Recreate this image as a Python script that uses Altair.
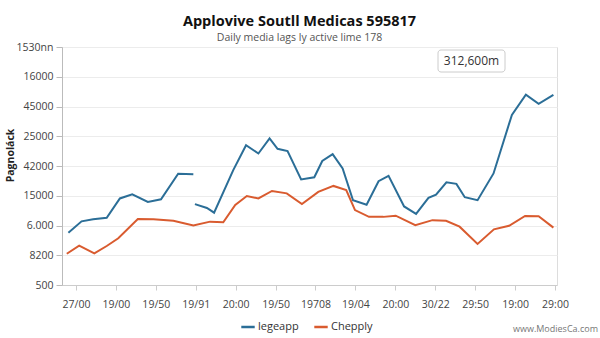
import json
import altair as alt
import pandas as pd

# ---- data (x in category-label units, y in tick-label units) ----
x_labels = ["27/00", "19/00", "19/50", "19/91", "20:00", "19/50", "19708",
            "19/04", "20:00", "30/22", "29:50", "19:00", "29:00"]
y_labels = ["500", "8200", "6.000", "15000", "42000", "25000", "45000", "16000", "1530nn"]

blue_x1 = [-0.19, 0.14, 0.43, 0.77, 1.10, 1.41, 1.80, 2.13, 2.56, 2.94]
blue_y1 = [1.76, 2.14, 2.21, 2.26, 2.91, 3.05, 2.79, 2.88, 3.74, 3.72]

blue_x2 = [2.98, 3.28, 3.46, 3.94, 4.26, 4.57, 4.85, 5.05, 5.30, 5.64, 5.97, 6.17,
           6.43, 6.68, 6.94, 7.28, 7.58, 7.83, 8.22, 8.52, 8.83, 9.02, 9.28, 9.53,
           9.74, 10.06, 10.46, 10.92, 11.27, 11.59, 11.96]
blue_y2 = [2.72, 2.59, 2.43, 3.86, 4.70, 4.42, 4.93, 4.58, 4.50, 3.55, 3.62, 4.17,
           4.40, 3.92, 2.85, 2.70, 3.49, 3.67, 2.64, 2.39, 2.93, 3.04, 3.45, 3.40,
           2.95, 2.85, 3.75, 5.72, 6.40, 6.09, 6.39]

orange_x = [-0.23, 0.08, 0.46, 0.77, 1.06, 1.55, 1.94, 2.44, 2.94, 3.36, 3.69, 3.99,
            4.28, 4.57, 4.91, 5.28, 5.66, 6.07, 6.45, 6.77, 6.99, 7.34, 7.70, 8.01,
            8.50, 8.93, 9.27, 9.61, 10.06, 10.47, 10.85, 11.25, 11.59, 11.96]
orange_y = [1.05, 1.32, 1.06, 1.31, 1.57, 2.22, 2.21, 2.16, 2.00, 2.13, 2.11, 2.69,
            2.99, 2.91, 3.16, 3.08, 2.72, 3.13, 3.33, 3.19, 2.52, 2.29, 2.29, 2.33,
            2.01, 2.18, 2.16, 1.96, 1.38, 1.87, 1.99, 2.32, 2.31, 1.93]

series_names = ["legeapp", "Chepply"]
colors = ["#2b6e97", "#d95b2f"]

rows = []
for xv, yv in zip(blue_x1, blue_y1):
    rows.append({"x": xv, "y": yv, "series": series_names[0], "seg": "b1"})
for xv, yv in zip(blue_x2, blue_y2):
    rows.append({"x": xv, "y": yv, "series": series_names[0], "seg": "b2"})
for xv, yv in zip(orange_x, orange_y):
    rows.append({"x": xv, "y": yv, "series": series_names[1], "seg": "o1"})
df = pd.DataFrame(rows)

x_expr = json.dumps(x_labels) + "[round(datum.value)]"
y_expr = json.dumps(y_labels) + "[round(datum.value)]"

FONT = "Open Sans"

lines = alt.Chart(df).mark_line(strokeWidth=2).encode(
    x=alt.X("x:Q", scale=alt.Scale(domain=[-0.35, 12.05], nice=False, zero=False),
            axis=alt.Axis(values=list(range(len(x_labels))), labelExpr=x_expr,
                          title=None, grid=False, tickSize=5, labelPadding=9,
                          labelFontSize=10.5, labelColor="#444", tickColor="#ccc",
                          domainColor="#ccc", labelFont=FONT)),
    y=alt.Y("y:Q", scale=alt.Scale(domain=[0, 8], nice=False, zero=False),
            axis=alt.Axis(values=list(range(len(y_labels))), labelExpr=y_expr,
                          title="Pagnoláck", titleFontSize=10.5, titleColor="#222",
                          titleFontWeight="bold", titleX=-47, titleY=108,
                          grid=True, gridColor="#ececec", tickSize=6, labelPadding=3,
                          labelFontSize=10.5, labelColor="#444", tickColor="#bbb",
                          domainColor="#bbb", labelFont=FONT, titleFont=FONT)),
    color=alt.Color("series:N", scale=alt.Scale(domain=series_names, range=colors),
                    sort=series_names,
                    legend=alt.Legend(title=None, orient="none", direction="horizontal",
                                      legendX=178, legendY=272, symbolType="stroke",
                                      symbolStrokeWidth=2.5, symbolSize=180,
                                      labelFontSize=11, labelColor="#333",
                                      labelFont=FONT, columnPadding=10,
                                      symbolOffset=0, labelOffset=2)),
    detail="seg:N",
    order="x:Q",
)

box = alt.Chart(pd.DataFrame({"a": [0]})).mark_rect(
    fill="white", stroke="#cccccc", strokeWidth=1, cornerRadius=3
).encode(x=alt.value(376), x2=alt.value(443), y=alt.value(3), y2=alt.value(25))

box_text = alt.Chart(pd.DataFrame({"t": ["312,600m"]})).mark_text(
    fontSize=12, color="#333", font=FONT, align="center", baseline="middle"
).encode(x=alt.value(409.5), y=alt.value(14), text="t:N")

mark_text = alt.Chart(pd.DataFrame({"t": ["www.ModiesCa.com"]})).mark_text(
    fontSize=9, color="#777", font=FONT, align="right", baseline="middle"
).encode(x=alt.value(536), y=alt.value(282), text="t:N")

chart = alt.layer(lines, box, box_text, mark_text).properties(
    width=495, height=238,
    autosize=alt.AutoSizeParams(type="none"),
    padding={"left": 62, "top": 47, "right": 43, "bottom": 53},
    title=alt.TitleParams(
        text="Applovive Soutll Medicas 595817",
        subtitle="Daily media lags ly active lime 178",
        fontSize=14.5, font=FONT, fontWeight="bold", color="#111",
        subtitleFontSize=10.5, subtitleFont=FONT, subtitleColor="#555",
        subtitlePadding=3, anchor="middle", offset=-2, dx=-10,
    ),
).configure_view(stroke=None).configure(background="white")

chart.save("out.html", embed_options={"renderer": "svg", "actions": False})
